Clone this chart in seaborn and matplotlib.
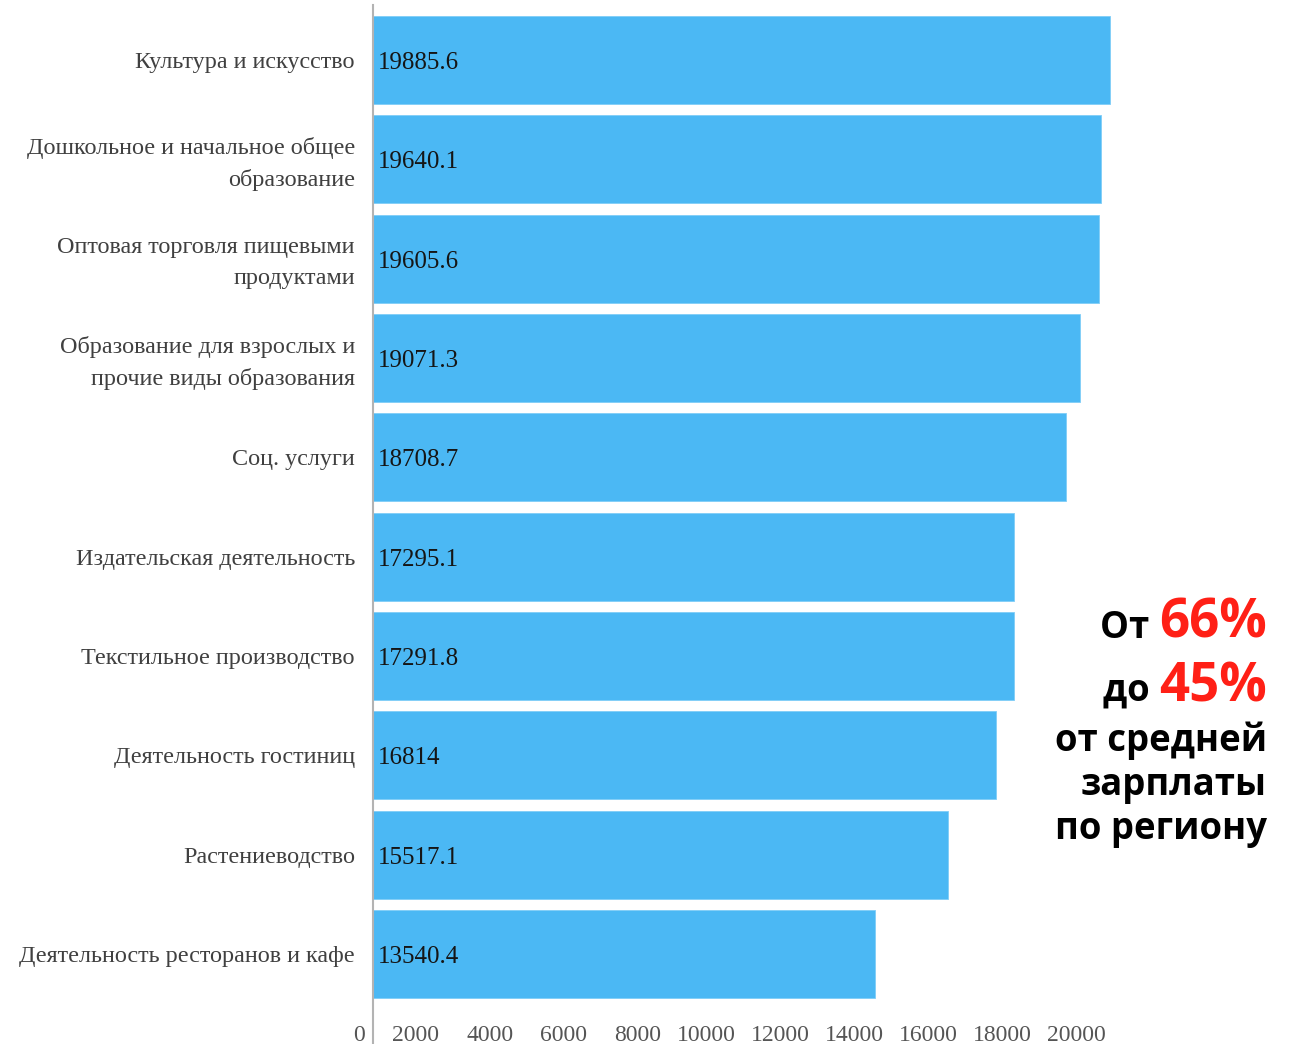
import matplotlib
matplotlib.use("Agg")
import matplotlib.pyplot as plt
import matplotlib.transforms as mtransforms
import seaborn as sns
import pandas as pd

categories = [
    "Культура и искусство",
    "Дошкольное и начальное общее\nобразование",
    "Оптовая торговля пищевыми\nпродуктами",
    "Образование для взрослых и\nпрочие виды образования",
    "Соц. услуги",
    "Издательская деятельность",
    "Текстильное производство",
    "Деятельность гостиниц",
    "Растениеводство",
    "Деятельность ресторанов и кафе",
]
values = [19885.6, 19640.1, 19605.6, 19071.3, 18708.7, 17295.1, 17291.8, 16814, 15517.1, 13540.4]
value_labels = ["19885.6", "19640.1", "19605.6", "19071.3", "18708.7", "17295.1", "17291.8", "16814", "15517.1", "13540.4"]
x_ticks = [0, 2000, 4000, 6000, 8000, 10000, 12000, 14000, 16000, 18000, 20000]

df = pd.DataFrame({"cat": categories, "val": values})

W, H, DPI = 1292, 1044, 100
sns.set_theme(style="white")
plt.rcParams["font.family"] = ["Liberation Serif", "DejaVu Serif"]

fig = plt.figure(figsize=(W / DPI, H / DPI), dpi=DPI)
ax_left, ax_right = 373, 1151
ax_top, ax_bot = 5, 1010
ax = fig.add_axes([ax_left / W, 1 - ax_bot / H, (ax_right - ax_left) / W, (ax_bot - ax_top) / H])

sns.barplot(data=df, x="val", y="cat", orient="h", color="#4BB8F4", saturation=1,
            width=0.886, ax=ax, edgecolor="#7fcdf7", linewidth=0.6)

ax.set_xlim(0, 21000)
ax.set_ylim(9.564, -0.554)
ax.set_xlabel("")
ax.set_ylabel("")

for s in ["top", "right", "bottom"]:
    ax.spines[s].set_visible(False)
ax.spines["left"].set_color("#b3b3b3")
ax.spines["left"].set_linewidth(1.5)
ax.spines["left"].set_bounds(-0.554, 9.95)

ax.set_yticks(range(len(categories)))
ax.set_yticklabels(categories, linespacing=1.6)
ax.set_xticks(x_ticks)
ax.set_xticklabels([str(t) for t in x_ticks])
ax.tick_params(axis="x", length=0, pad=11, labelsize=17, labelcolor="#555555")
ax.tick_params(axis="y", length=0, pad=13, labelsize=17.4, labelcolor="#404040")
off = mtransforms.ScaledTranslation(-8 / DPI, 0, fig.dpi_scale_trans)
for lab in ax.get_xticklabels():
    lab.set_ha("right")
    lab.set_transform(lab.get_transform() + off)
up = mtransforms.ScaledTranslation(0, 3 / DPI, fig.dpi_scale_trans)
for lab in ax.get_yticklabels():
    if "\n" in lab.get_text():
        lab.set_transform(lab.get_transform() + up)

for i, (v, t) in enumerate(zip(values, value_labels)):
    ax.text(130, i + 0.03, t, ha="left", va="center", fontsize=18, color="#151515")

# right-side annotation
sans = ["Open Sans", "DejaVu Sans"]
xr = 1267 / W
fig.canvas.draw()
rend = fig.canvas.get_renderer()

def mixed_line(prefix, red, y_px):
    t_red = fig.text(xr, 1 - y_px / H, red, ha="right", va="baseline", fontsize=38,
                     fontweight="bold", color="#FF2016", family=sans)
    bb = t_red.get_window_extent(renderer=rend)
    fig.text(bb.x0 / W, 1 - y_px / H, prefix, ha="right", va="baseline", fontsize=26.3,
             fontweight="bold", color="#000000", family=sans)

mixed_line("От ", "66%", 638)
mixed_line("до ", "45%", 701)
for txt, y in [("от средней", 751), ("зарплаты", 795), ("по региону", 839)]:
    fig.text(xr, 1 - y / H, txt, ha="right", va="baseline", fontsize=26.3,
             fontweight="bold", color="#000000", family=sans)

fig.savefig("out.png", dpi=DPI)
